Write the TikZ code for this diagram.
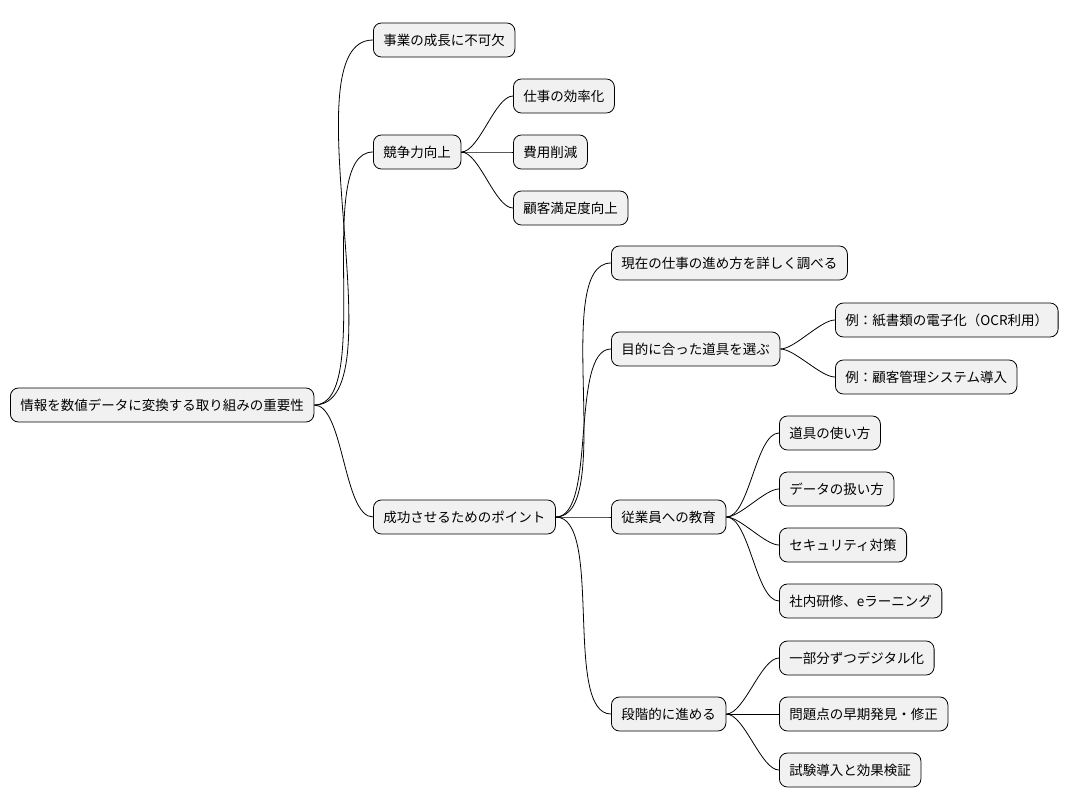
\documentclass[tikz,border=0pt]{standalone}
\usepackage{fontspec}
\setmainfont{Noto Sans CJK JP}
\begin{document}
\begin{tikzpicture}[x=1pt,y=-1pt,
  box/.style={draw=black,line width=0.8pt,fill={rgb,255:red,241;green,241;blue,241},rounded corners=8pt,
    anchor=west,minimum height=34pt,inner xsep=10pt,inner ysep=0pt,font=\fontsize{13.5pt}{16pt}\selectfont},
  link/.style={draw=black,line width=0.8pt,out=0,in=180,looseness=0.6}]
\useasboundingbox (0,0) rectangle (1079,809);
\node[box] (r) at (10,405) {情報を数値データに変換する取り組みの重要性};
\node[box] (a) at (373,40) {事業の成長に不可欠};
\node[box] (b) at (373,152) {競争力向上};
\node[box] (b1) at (513,96) {仕事の効率化};
\node[box] (b2) at (513,152) {費用削減};
\node[box] (b3) at (513,208) {顧客満足度向上};
\node[box] (c) at (373,517) {成功させるためのポイント};
\node[box] (c1) at (611,263) {現在の仕事の進め方を詳しく調べる};
\node[box] (c2) at (611,349) {目的に合った道具を選ぶ};
\node[box] (c21) at (835,320) {例：紙書類の電子化（OCR利用）};
\node[box] (c22) at (835,377) {例：顧客管理システム導入};
\node[box] (c3) at (611,517) {従業員への教育};
\node[box] (c31) at (779,433) {道具の使い方};
\node[box] (c32) at (779,489) {データの扱い方};
\node[box] (c33) at (779,545) {セキュリティ対策};
\node[box] (c34) at (779,601) {社内研修、eラーニング};
\node[box] (c4) at (611,714) {段階的に進める};
\node[box] (c41) at (779,658) {一部分ずつデジタル化};
\node[box] (c42) at (779,714) {問題点の早期発見・修正};
\node[box] (c43) at (779,770) {試験導入と効果検証};
\foreach \p/\c in {r/a,r/b,r/c,b/b1,b/b2,b/b3,c/c1,c/c2,c/c3,c/c4,c2/c21,c2/c22,c3/c31,c3/c32,c3/c33,c3/c34,c4/c41,c4/c42,c4/c43}
  \draw[link] (\p.east) to (\c.west);
\end{tikzpicture}
\end{document}
